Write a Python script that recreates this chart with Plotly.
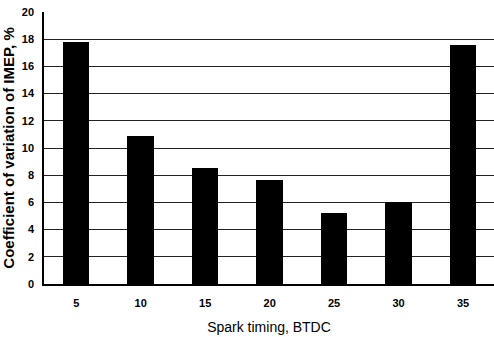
import plotly.graph_objects as go

spark_timing = [5, 10, 15, 20, 25, 30, 35]
cov_imep = [17.8, 10.9, 8.5, 7.65, 5.2, 6.05, 17.6]
y_ticks = [0, 2, 4, 6, 8, 10, 12, 14, 16, 18, 20]

fig = go.Figure()
fig.add_trace(go.Bar(x=spark_timing, y=cov_imep, width=2.05,
                     marker=dict(color="black", line=dict(width=0))))

tick_font = dict(size=11, family="Liberation Sans Narrow, Arial", weight="bold")

fig.update_layout(
    width=494, height=337,
    margin=dict(l=44, r=0, t=12, b=53),
    paper_bgcolor="white", plot_bgcolor="white",
    showlegend=False,
    font=dict(family="Liberation Sans, Arial", color="black"),
    xaxis=dict(
        range=[2.5, 37.4],
        tickvals=spark_timing,
        ticktext=[str(v) for v in spark_timing],
        tickfont=tick_font,
        ticklabelstandoff=8,
        showgrid=False, zeroline=False,
        showline=True, linecolor="black", linewidth=1.5,
        ticks="", ticklen=0,
        title=dict(text="Spark timing, BTDC", font=dict(size=14), standoff=14),
    ),
    yaxis=dict(
        range=[0, 20],
        tickvals=y_ticks,
        tickfont=tick_font,
        ticklabelstandoff=6,
        showgrid=True, gridcolor="#222", gridwidth=1.3,
        zeroline=False,
        showline=True, linecolor="black", linewidth=1.5,
        ticks="",
        title=dict(text="<b>Coefficient of variation of IMEP, %</b>", font=dict(size=15), standoff=6),
    ),
    bargap=0,
)

fig.write_html("out.html")
